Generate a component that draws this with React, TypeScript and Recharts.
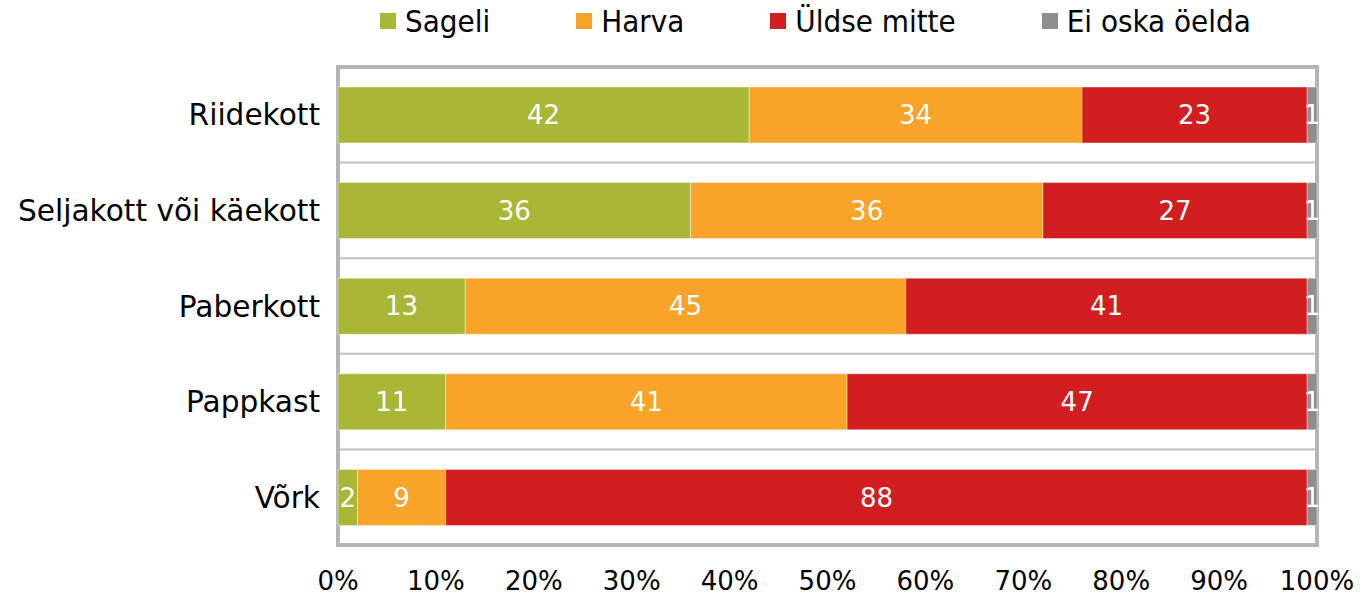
import {
  Bar,
  BarChart,
  CartesianGrid,
  LabelList,
  Legend,
  ReferenceArea,
  XAxis,
  YAxis,
} from "recharts";

document.body.style.margin = "0";

const categories = ["Riidekott", "Seljakott või käekott", "Paberkott", "Pappkast", "Võrk"];
const sageli = [42, 36, 13, 11, 2];
const harva = [34, 36, 45, 41, 9];
const uldseMitte = [23, 27, 41, 47, 88];
const eiOskaOelda = [1, 1, 1, 1, 1];
const xTicks = [0, 10, 20, 30, 40, 50, 60, 70, 80, 90, 100];

const series = [
  { key: "sageli", name: "Sageli", color: "#A9B636" },
  { key: "harva", name: "Harva", color: "#F8A329" },
  { key: "uldse", name: "Üldse mitte", color: "#D21E20" },
  { key: "ei", name: "Ei oska öelda", color: "#8E8E8E" },
];

const data = categories.map((name, i) => ({
  name,
  sageli: sageli[i],
  harva: harva[i],
  uldse: uldseMitte[i],
  ei: eiOskaOelda[i],
}));

const font = "'DejaVu Sans', Verdana, sans-serif";

function TopLegend() {
  return (
    <div
      style={{
        height: 67,
        width: 1360,
        display: "flex",
        alignItems: "flex-start",
        paddingLeft: 380,
        boxSizing: "border-box",
        gap: 86,
        fontFamily: "'DejaVu Sans Condensed', 'DejaVu Sans', sans-serif",
        fontStretch: "condensed",
        fontSize: 31,
        color: "#000",
      }}
    >
      {series.map((s) => (
        <div key={s.key} style={{ display: "flex", alignItems: "center", marginTop: 2, lineHeight: "38px" }}>
          <span style={{ width: 16, height: 16, background: s.color, marginRight: 9, display: "inline-block" }} />
          <span>{s.name}</span>
        </div>
      ))}
    </div>
  );
}

export default function App() {
  return (
    <BarChart
      width={1360}
      height={596}
      data={data}
      layout="vertical"
      margin={{ top: 0, right: 43, bottom: 0, left: 0 }}
      style={{ fontFamily: font }}
    >
      <Legend verticalAlign="top" align="left" content={() => <TopLegend />} wrapperStyle={{ left: 0, top: 0 }} />
      <CartesianGrid
        vertical={false}
        stroke="#BFBFBF"
        strokeWidth={2}
        horizontalCoordinatesGenerator={({ offset }: any) =>
          [1, 2, 3, 4].map((i) => offset.top + (i * offset.height) / categories.length)
        }
      />
      <ReferenceArea x1={0} x2={100} fill="none" stroke="#B5B5B5" strokeWidth={4} ifOverflow="visible" />
      <XAxis
        type="number"
        domain={[0, 100]}
        ticks={xTicks}
        tickFormatter={(v) => `${v}%`}
        axisLine={false}
        tickLine={false}
        tickSize={0}
        tickMargin={27}
        height={51}
        tick={{ fill: "#000", fontSize: 26 }}
        interval={0}
      />
      <YAxis
        type="category"
        dataKey="name"
        width={338}
        axisLine={false}
        tickLine={false}
        tickSize={0}
        tickMargin={18}
        tick={{ fill: "#000", fontSize: 29.6 }}
        interval={0}
      />
      {series.map((s) => (
        <Bar
          key={s.key}
          dataKey={s.key}
          name={s.name}
          stackId="a"
          fill={s.color}
          barSize={56}
          stroke="#ffffff"
          strokeOpacity={0.4}
          strokeWidth={1}
          isAnimationActive={false}
        >
          <LabelList dataKey={s.key} position="center" fill="#fff" fontSize={26} />
        </Bar>
      ))}
    </BarChart>
  );
}
